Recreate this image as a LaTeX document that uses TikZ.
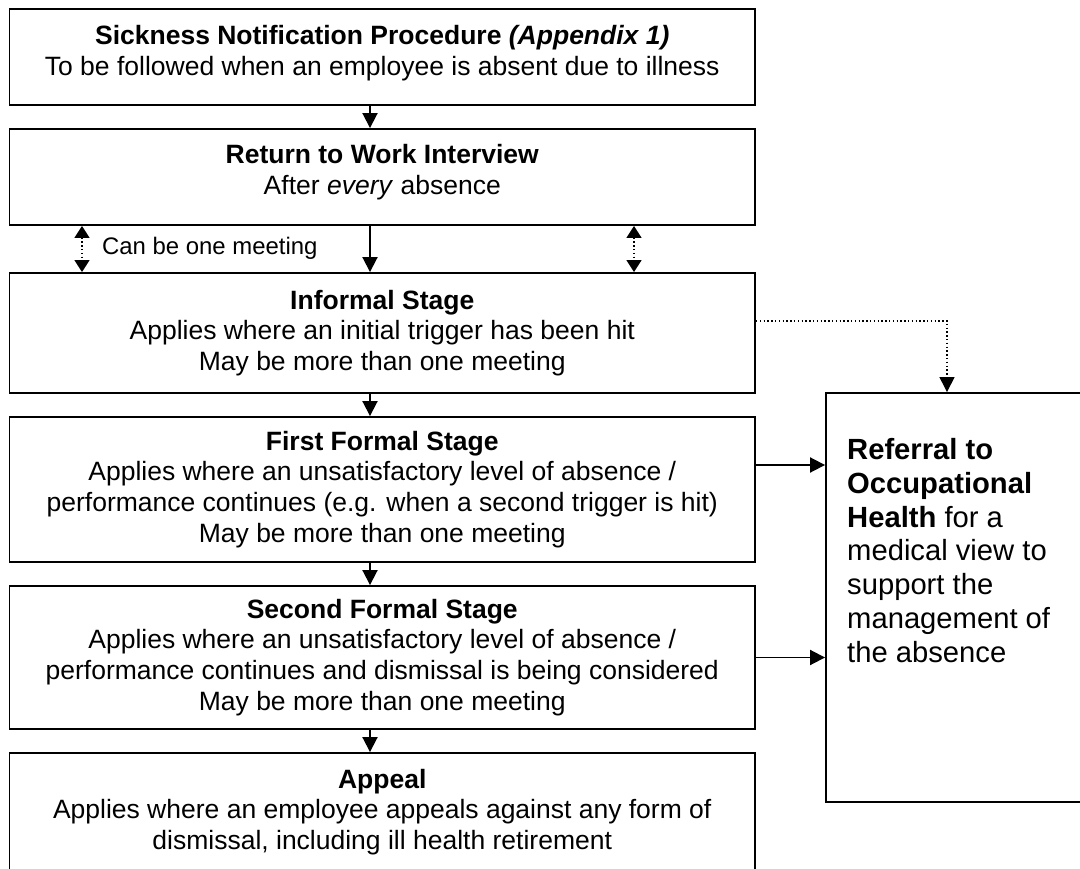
\documentclass[tikz,border=0pt]{standalone}
\usepackage{fontspec}
\setmainfont{Liberation Sans}
\usetikzlibrary{arrows.meta,positioning}

\begin{document}
\begin{tikzpicture}[x=1pt, y=-1pt,
	stage/.style={draw, line width=1.9pt, minimum width=745.5pt, align=center, inner sep=0pt,
		font=\fontsize{26.5}{30.8}\selectfont},
	flow/.style={line width=1.9pt, -{Triangle[length=15pt, width=15pt]}},
	link/.style={line width=1.4pt, dash pattern=on 1.4pt off 2.4pt,
		{Triangle[length=12pt, width=15pt]}-{Triangle[length=12pt, width=15pt]}},
	hint/.style={line width=1.4pt, dash pattern=on 1.4pt off 2.4pt, -{Triangle[length=15pt, width=15pt]}},
	note/.style={inner sep=0pt, font=\fontsize{23.9}{28}\selectfont},
	reftext/.style={inner sep=0pt, align=left, font=\fontsize{29.2}{33.8}\selectfont}]
	\useasboundingbox (0,0) rectangle (1080,869);
	\clip (0,0) rectangle (1080,869);
	\fill[white] (0,0) rectangle (1080,869);

	\node[stage, minimum height=96pt] (notify) at (382.25,57) {\textbf{Sickness Notification Procedure \textit{(Appendix 1)}}\\To be followed when an employee is absent due to illness\\[-17pt]\mbox{}};
	\node[stage, minimum height=96pt] (rtw) at (382.25,177) {\textbf{Return to Work Interview}\\After \textit{every} absence\\[-16pt]\mbox{}};
	\node[stage, minimum height=120pt] (informal) at (382.25,333) {\textbf{Informal Stage}\\Applies where an initial trigger has been hit\\May be more than one meeting};
	\node[stage, minimum height=145pt] (first) at (382.25,489.5) {\textbf{First Formal Stage}\\Applies where an unsatisfactory level of absence /\\performance continues (e.g. when a second trigger is hit)\\May be more than one meeting};
	\node[stage, minimum height=143pt] (second) at (382.25,657.5) {\textbf{Second Formal Stage}\\Applies where an unsatisfactory level of absence /\\performance continues and dismissal is being considered\\May be more than one meeting};
	\node[stage, minimum height=118pt] (appeal) at (382.25,812) {\textbf{Appeal}\\Applies where an employee appeals against any form of\\dismissal, including ill health retirement};

	\node[draw, line width=1.9pt, minimum width=262pt, minimum height=409pt] (referral) at (957,597.5) {};
	\node[reftext, anchor=west] (reftxt) at (847,550.5) {\textbf{Referral to}\\\textbf{Occupational}\\\textbf{Health} for a\\medical view to\\support the\\management of\\the absence};

	\coordinate (ax) at (370,0);
	\coordinate (lx) at (82,0);
	\coordinate (rx) at (634,0);

	\draw[flow] (notify.south -| ax) -- (rtw.north -| ax);
	\draw[flow] (rtw.south -| ax) -- (informal.north -| ax);
	\draw[flow] (informal.south -| ax) -- (first.north -| ax);
	\draw[flow] (first.south -| ax) -- (second.north -| ax);
	\draw[flow] (second.south -| ax) -- (appeal.north -| ax);

	\draw[link] (rtw.south -| lx) -- (informal.north -| lx);
	\draw[link] (rtw.south -| rx) -- (informal.north -| rx);
	\node[note, anchor=west] (onemeet) at (102,248) {Can be one meeting};

	\coordinate (inf) at ([yshift=12pt]informal.east);
	\coordinate (ff) at ([yshift=24.5pt]first.east);
	\draw[hint] (inf) -| ([xshift=-10pt]referral.north);
	\draw[flow] (ff) -- (ff -| referral.west);
	\draw[flow] (second.east) -- (second.east -| referral.west);
\end{tikzpicture}
\end{document}
